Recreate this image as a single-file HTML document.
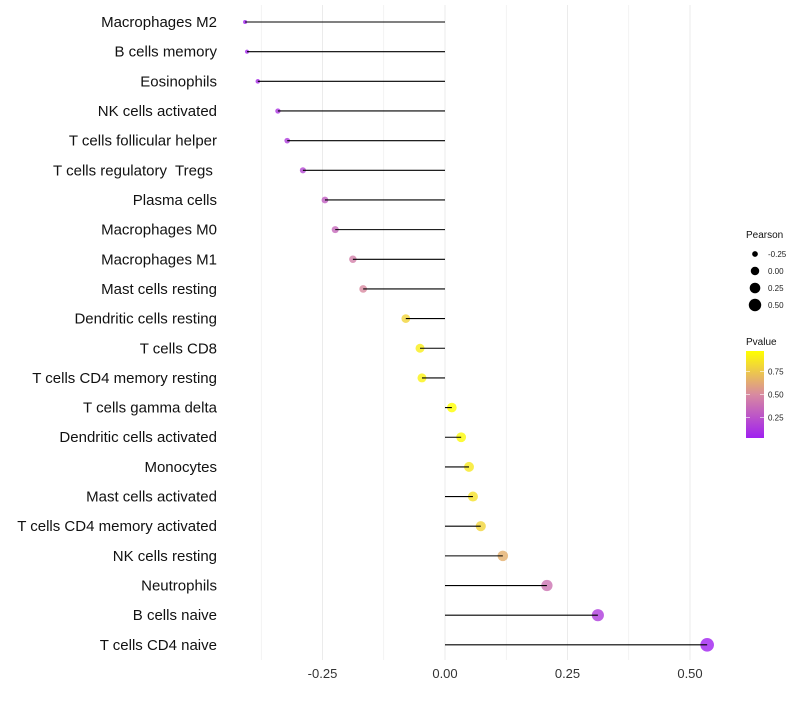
<!DOCTYPE html>
<html><head><meta charset="utf-8"><style>
body{margin:0;background:#fff;font-family:"Liberation Sans",sans-serif;}
text{white-space:pre;}
</style></head><body>
<svg id="c" width="800" height="700" xmlns="http://www.w3.org/2000/svg"></svg>
<script>
const categories=["Macrophages M2","B cells memory","Eosinophils","NK cells activated","T cells follicular helper","T cells regulatory  Tregs ","Plasma cells","Macrophages M0","Macrophages M1","Mast cells resting","Dendritic cells resting","T cells CD8","T cells CD4 memory resting","T cells gamma delta","Dendritic cells activated","Monocytes","Mast cells activated","T cells CD4 memory activated","NK cells resting","Neutrophils","B cells naive","T cells CD4 naive"];
const pearson=[-0.408,-0.404,-0.382,-0.341,-0.322,-0.29,-0.245,-0.224,-0.188,-0.167,-0.08,-0.051,-0.047,0.014,0.033,0.049,0.057,0.073,0.118,0.208,0.312,0.535];
const pvalue=[0.03,0.05,0.08,0.12,0.15,0.2,0.3,0.35,0.45,0.5,0.8,0.9,0.92,0.97,0.95,0.88,0.85,0.8,0.65,0.4,0.15,0.03];
const xTicks=[-0.25,0,0.25,0.5];
const xTickLabels=["-0.25","0.00","0.25","0.50"];
const sizeLegend=[-0.25,0,0.25,0.5];
const sizeLegendLabels=["-0.25","0.00","0.25","0.50"];
const pTicks=[0.25,0.5,0.75];

const svg=document.getElementById('c');
const NS="http://www.w3.org/2000/svg";
const X=v=>445+v*490;
const Y=i=>22+i*29.66;
const R=v=>Math.sqrt(4+(v+0.41)*45);
const stops=[[160,32,240],[216,138,160],[255,255,0]];
function col(p){let t=Math.max(0,Math.min(1,(p-0.03)/0.94));let a,b,u;if(t<0.5){a=stops[0];b=stops[1];u=t/0.5}else{a=stops[1];b=stops[2];u=(t-0.5)/0.5}
return `rgb(${a.map((c,k)=>Math.round(c+(b[k]-c)*u)).join(',')})`;}
function el(tag,attrs,name,inter){const e=document.createElementNS(NS,tag);for(const k in attrs)e.setAttribute(k,attrs[k]);


svg.appendChild(e);return e;}
[-0.375,-0.25,-0.125,0,0.125,0.25,0.375,0.5].forEach(v=>{el('line',{x1:X(v),x2:X(v),y1:5,y2:660,stroke:'#ebebeb','stroke-width':Number.isInteger(v*4)?1:0.6},'x-grid-line');});
xTicks.forEach((v,i)=>{const t=el('text',{x:X(v),y:678,'text-anchor':'middle','font-size':13,fill:'#333'},'x-tick-label');t.textContent=xTickLabels[i];});
categories.forEach((c,i)=>{
const t=el('text',{x:217,y:Y(i)+5,'text-anchor':'end','font-size':15,fill:'#111'},'y-category-label');t.textContent=c;
el('circle',{cx:X(pearson[i]),cy:Y(i),r:R(pearson[i]),fill:col(pvalue[i]),'fill-opacity':0.8},'lollipop-point');
el('line',{x1:X(0),x2:X(pearson[i]),y1:Y(i),y2:Y(i),stroke:'#000','stroke-width':1.1},'lollipop-stem');
});
let lt=el('text',{x:746,y:238,'font-size':10,fill:'#111'},'size-legend-title');lt.textContent='Pearson';
sizeLegend.forEach((v,i)=>{const y=254+i*17;el('circle',{cx:755,cy:y,r:R(v)-0.5,fill:'#000'},'size-legend-key');
const t=el('text',{x:768,y:y+3,'font-size':8,fill:'#222'},'size-legend-label');t.textContent=sizeLegendLabels[i];});
let pt=el('text',{x:746,y:345,'font-size':10,fill:'#111'},'color-legend-title');pt.textContent='Pvalue';
const defs=document.createElementNS(NS,'defs');defs.innerHTML='<linearGradient id="g" x1="0" y1="1" x2="0" y2="0"><stop offset="0" stop-color="#a020f0"/><stop offset="0.5" stop-color="#d88aa0"/><stop offset="1" stop-color="#ffff00"/></linearGradient>';svg.appendChild(defs);
el('rect',{x:746,y:351,width:18,height:87,fill:'url(#g)'},'color-bar');
const PY=p=>438-(p-0.03)/0.94*87;
pTicks.forEach(p=>{el('line',{x1:746,x2:750,y1:PY(p),y2:PY(p),stroke:'#fff','stroke-width':0.6},'color-bar-tick');el('line',{x1:760,x2:764,y1:PY(p),y2:PY(p),stroke:'#fff','stroke-width':0.6},'color-bar-tick');
const t=el('text',{x:768,y:PY(p)+3,'font-size':8,fill:'#222'},'color-bar-label');t.textContent=p.toFixed(2);});
</script>
</body></html>
